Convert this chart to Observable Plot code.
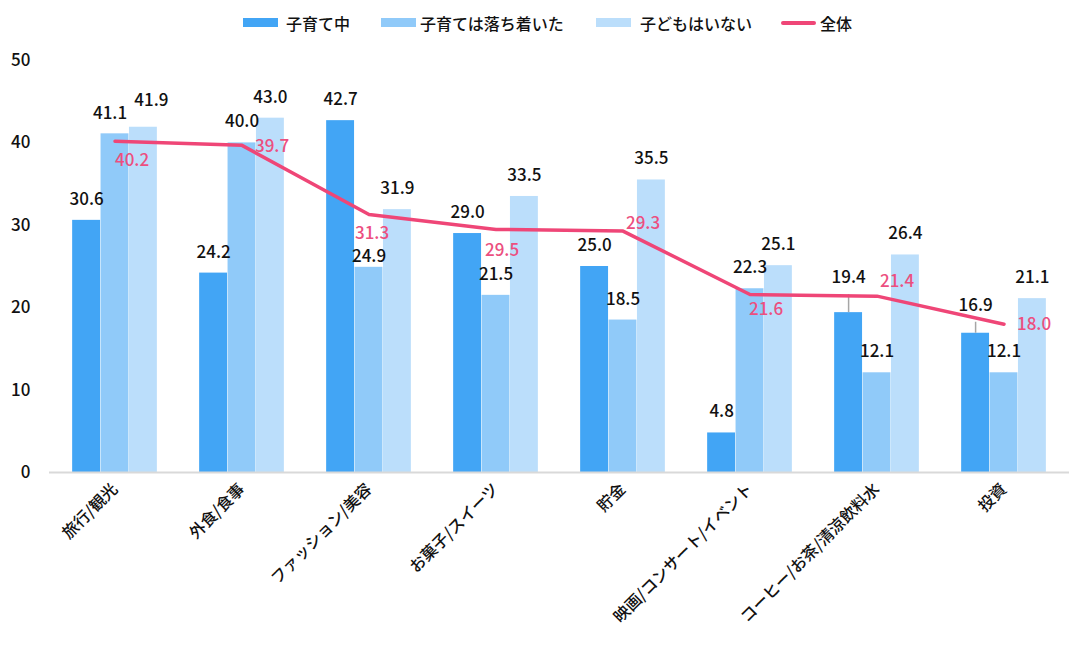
<!DOCTYPE html>
<html>
<head>
<meta charset="utf-8">
<script src="https://cdn.jsdelivr.net/npm/d3@7"></script>
<script src="https://cdn.jsdelivr.net/npm/@observablehq/plot@0.6"></script>
<style>
  html, body { margin: 0; padding: 0; background: #fff; }
  body { width: 1088px; height: 654px; overflow: hidden; font-family: "Noto Sans CJK JP", "Noto Sans", sans-serif; }
  #legend { position: relative; height: 45px; }
  .item { position: absolute; top: 0; height: 45px; display: flex; align-items: center; font-size: 16px; font-weight: 500; color: #111; white-space: nowrap; }
  .sw { display: inline-block; width: 35px; height: 9px; margin-right: 7px; }
  .ln { display: inline-block; width: 35px; height: 4px; border-radius: 2px; margin-right: 4px; }
  #chart svg { display: block; }
</style>
</head>
<body>
<div id="legend"></div>
<div id="chart"></div>
<script>
// ---- data ----
const categories = ["旅行/観光", "外食/食事", "ファッション/美容", "お菓子/スイーツ", "貯金", "映画/コンサート/イベント", "コーヒー/お茶/清涼飲料水", "投資"];
const seriesNames = ["子育て中", "子育ては落ち着いた", "子どもはいない"];
const overallName = "全体";
const childRearing = [30.6, 24.2, 42.7, 29.0, 25.0, 4.8, 19.4, 16.9];
const settledDown = [41.1, 40.0, 24.9, 21.5, 18.5, 22.3, 12.1, 12.1];
const noChildren  = [41.9, 43.0, 31.9, 33.5, 35.5, 25.1, 26.4, 21.1];
const overall     = [40.2, 39.7, 31.3, 29.5, 29.3, 21.6, 21.4, 18.0];
const yTicks = [0, 10, 20, 30, 40, 50];

// ---- styling / layout ----
const colors = ["#42a5f5", "#90caf9", "#bbdefb"];
const lineColor = "#ef4677";
const lineLabelColor = "#ec4f7f";
const lineLabelOffsets = [[17, 19], [30, 1], [3, 19], [6, 21], [20, -8], [16, 15], [20, -15], [30, 0]];
// pixel lift (positive = up) and horizontal shift of particular bar labels
const barLabelLift = {"0-6": 14, "0-7": 7, "1-0": -1, "2-0": 6, "1-2": -10};
const barLabelShift = {"1-0": -5, "2-0": 8};
const leaderLines = ["0-6", "0-7"];

// legend
const legendLeft = [243, 381, 596, 781];
const legend = document.getElementById("legend");
seriesNames.forEach((n, i) => {
  const d = document.createElement("div");
  d.className = "item";
  d.style.left = legendLeft[i] + "px";
  d.innerHTML = `<span class="sw" style="background:${colors[i]};margin-right:${[8,4,9][i]}px"></span>${n}`;
  legend.appendChild(d);
});
{
  const d = document.createElement("div");
  d.className = "item";
  d.style.left = legendLeft[3] + "px";
  d.innerHTML = `<span class="ln" style="background:${lineColor}"></span>${overallName}`;
  legend.appendChild(d);
}

const seriesValues = [childRearing, settledDown, noChildren];
const idx = categories.map((_, i) => i);

const width = 1088, height = 609;
const marginTop = 15, marginBottom = 182, marginLeft = 49, marginRight = 19;
const step = (width - marginLeft - marginRight) / categories.length;
const barW = 28.4;
const groupOuter = (step - 3 * barW) / 2;
const pxPerUnit = (height - marginTop - marginBottom) / 50;
const font = '"Noto Sans CJK JP", "Noto Sans", sans-serif';

const marks = [];
seriesValues.forEach((vals, s) => {
  const left = groupOuter + s * barW;
  marks.push(Plot.barY(idx, {
    x: i => categories[i], y: i => vals[i], fill: colors[s],
    insetLeft: left, insetRight: step - left - barW
  }));
});
marks.push(Plot.ruleY([0], {stroke: "#d9d9d9", strokeWidth: 2}));
// leader lines for lifted labels
leaderLines.forEach(k => {
  const [s, i] = k.split("-").map(Number);
  const v = seriesValues[s][i];
  const dxs = (s - 1) * barW;
  marks.push(Plot.ruleX([i], {
    x: i => categories[i], y1: v, y2: v + (barLabelLift[k] + 4) / pxPerUnit,
    dx: dxs, stroke: "#a6a6a6", strokeWidth: 1.5
  }));
});
marks.push(Plot.lineY(idx, {
  x: i => categories[i], y: i => overall[i], stroke: lineColor, strokeWidth: 3.5, strokeLinejoin: "round"
}));
// bar labels
seriesValues.forEach((vals, s) => {
  const dxs = (s - 1) * barW;
  idx.forEach(i => {
    const key = `${s}-${i}`;
    const lift = barLabelLift[key] || 0;
    const shift = barLabelShift[key] || 0;
    marks.push(Plot.text([i], {
      x: i => categories[i], y: i => vals[i], text: i => vals[i].toFixed(1),
      dx: dxs + shift, dy: -21 - lift, fill: "#111", fontSize: 17, fontWeight: 500
    }));
  });
});
// line labels
idx.forEach(i => {
  const [ox, oy] = lineLabelOffsets[i];
  marks.push(Plot.text([i], {
    x: i => categories[i], y: i => overall[i], text: i => overall[i].toFixed(1),
    dx: ox, dy: oy, fill: lineLabelColor, fontSize: 17, fontWeight: 500
  }));
});
marks.push(Plot.axisY({ticks: yTicks, tickSize: 0, tickPadding: 19, tickFormat: d => String(d), fontSize: 17, fontWeight: 500, fill: "#111", label: null}));
marks.push(Plot.axisX({tickSize: 0, tickPadding: 14, tickRotate: -45, fontSize: 16, fontWeight: 500, fill: "#111", label: null}));

const chart = Plot.plot({
  width, height, marginTop, marginBottom, marginLeft, marginRight,
  style: {fontFamily: font, background: "#fff", overflow: "visible"},
  x: {domain: categories, padding: 0},
  y: {domain: [0, 50]},
  marks
});
document.getElementById("chart").appendChild(chart);
</script>
</body>
</html>
